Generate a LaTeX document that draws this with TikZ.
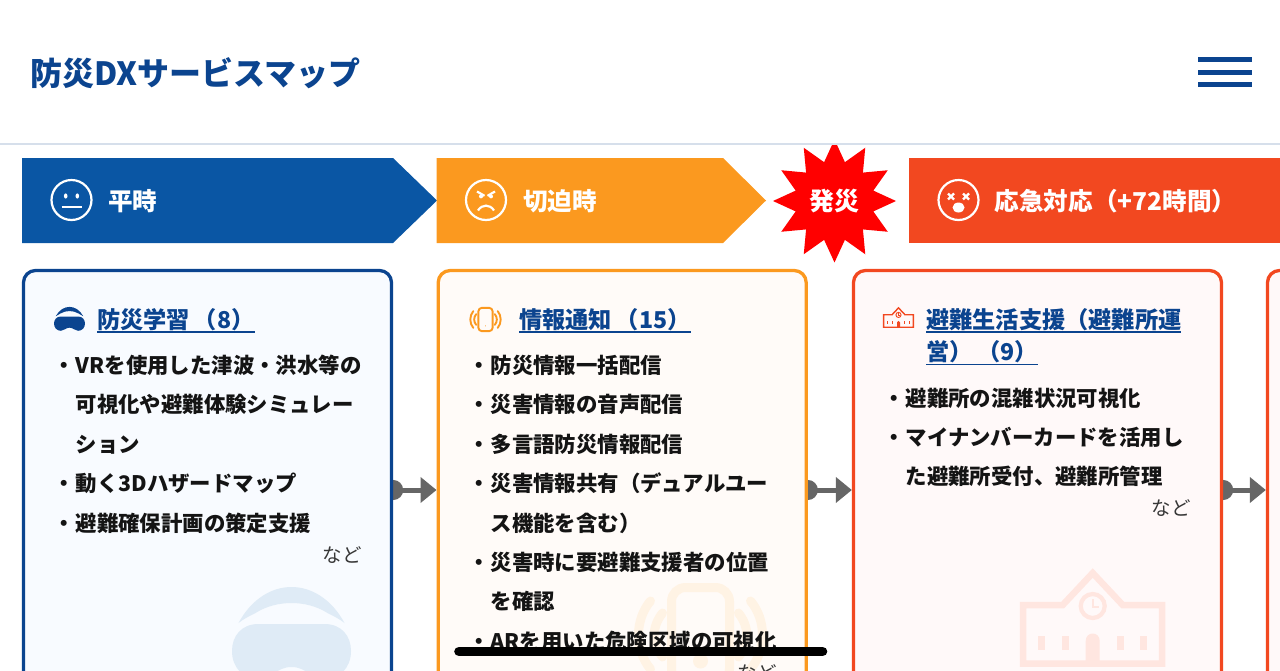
\documentclass[tikz,border=0pt]{standalone}
\usepackage{fontspec}
\setmainfont{Noto Sans CJK JP}
\usetikzlibrary{arrows.meta,backgrounds,shapes.geometric}
\definecolor{marino}{HTML}{0B448F}
\definecolor{azul}{HTML}{0A56A4}
\definecolor{naranja}{HTML}{FB991F}
\definecolor{bermellon}{HTML}{F24820}
\definecolor{rojo}{HTML}{FF0000}
\definecolor{gris}{HTML}{666666}
\definecolor{tinta}{HTML}{141414}
\definecolor{fondoazul}{HTML}{F8FBFF}
\definecolor{fondonaranja}{HTML}{FFFBF8}
\definecolor{fondorojo}{HTML}{FFF9F9}
\definecolor{palidoazul}{HTML}{DFEBF6}
\definecolor{palidonaranja}{HTML}{FFF3E4}
\definecolor{palidorojo}{HTML}{FFE6E0}
\definecolor{sombra}{HTML}{D6DFEB}
\newsavebox{\subrayabox}
\newcommand{\subraya}[1]{\sbox{\subrayabox}{#1}\rlap{\rule[-4.5pt]{\wd\subrayabox}{1.6pt}}\usebox{\subrayabox}}
\newcommand{\iconovr}[4]{\begin{scope}[shift={(#1,#2)},scale=#3]
  \fill[#4] (-53,-1) .. controls (-40,-25) and (-20,-37) .. (0,-37) .. controls (20,-37) and (40,-25) .. (53,-1)
    .. controls (48,-5) and (42,-8) .. (36,-11) .. controls (25,-18) and (12,-21) .. (0,-21)
    .. controls (-12,-21) and (-25,-18) .. (-36,-11) .. controls (-42,-8) and (-48,-5) .. (-53,-1) -- cycle;
  \fill[#4] (-33,0) -- (33,0) .. controls (50,0) and (59.5,12) .. (59.5,27) .. controls (59.5,44) and (48,55) .. (33,55)
    .. controls (20,55) and (15,43) .. (0,43) .. controls (-15,43) and (-20,55) .. (-33,55)
    .. controls (-48,55) and (-59.5,44) .. (-59.5,27) .. controls (-59.5,12) and (-50,0) .. (-33,0) -- cycle;
\end{scope}}
\newcommand{\iconofono}[5]{\begin{scope}[shift={(#1,#2)},scale=#3,#4,line width=#5,line cap=round]
  \draw[rounded corners=#3*14pt] (-29,-47.5) rectangle (29,47.5);
  \fill (0,26) circle (#3*7.5pt);
  \foreach \s in {-1,1}{
    \draw (\s*50,-34) .. controls (\s*66,-15) and (\s*66,15) .. (\s*50,34);
    \draw (\s*38,-22) .. controls (\s*49,-8) and (\s*49,8) .. (\s*38,22);
  }
\end{scope}}
\newcommand{\iconoescuela}[5]{\begin{scope}[shift={(#1,#2)},scale=#3,#4,line width=#5,miter limit=4]
  \draw (-30,36) -- (0,4) -- (30,36) -- (69.5,36) -- (69.5,94.5) -- (-69.5,94.5) -- (-69.5,36) -- cycle;
  \draw[line width=#5*.65] (0,37) circle (12);
  \draw[line width=#5*.25] (0,30) -- (0,38) -- (6,38);
  \fill (-7,94) -- (-7,72) .. controls (-7,62) and (7,62) .. (7,72) -- (7,94) -- cycle;
  \foreach \x in {-51,-27.5,27.5,51} \fill (\x-3.5,67) rectangle (\x+3.5,81);
\end{scope}}
\tikzset{
  tarjeta/.style={draw=#1,line width=3.3pt,rounded corners=12pt,minimum width=368pt,minimum height=439pt,inner sep=0pt},
  flujo/.style={gris,line width=5pt,{Circle[length=20pt,width=20pt]}-{Triangle[length=16pt,width=25pt]},shorten <=-10pt},
  cabecera/.style={white,font=\bfseries\fontsize{24.6}{24.6}\selectfont,anchor=base west,inner sep=0pt,yshift=-9.3pt},
  titulo/.style={marino,font=\bfseries\fontsize{23.2}{23.2}\selectfont,anchor=base west,inner sep=0pt,yshift=-8.8pt},
  linea/.style={tinta,font=\bfseries\fontsize{21.4}{21.4}\selectfont,anchor=base west,inner sep=0pt,yshift=-8.1pt},
  punto/.style={tinta,font=\bfseries\fontsize{21.4}{21.4}\selectfont,anchor=base east,inner sep=0pt,yshift=-8.1pt},
  etc/.style={tinta!85,font=\fontsize{19.5}{19.5}\selectfont,anchor=base,inner sep=0pt,yshift=-7.4pt},
  cara/.style={white,line width=2.2pt}
}
\begin{document}
\begin{tikzpicture}[x=1pt,y=-1pt,>=Latex]
  \useasboundingbox (0,0) rectangle (1280,670);
  \clip (0,0) rectangle (1280,670);
  \fill[azul] (22,158) -- (393,158) -- (437,200.5) -- (393,243) -- (22,243) -- cycle;
  \fill[naranja] (436.5,158) -- (723,158) -- (766,200.5) -- (723,243) -- (436.5,243) -- cycle;
  \fill[bermellon] (909,158) rectangle (1280,243);
  \node[star,star points=12,star point ratio=1.53,minimum size=123pt,inner sep=0pt,fill=rojo] (estrella) at (834.5,201) {};
  \node[white,font=\bfseries\fontsize{25}{25}\selectfont,inner sep=0pt] (hassai) at (834.5,201.5) {発災};
  \node[cabecera] (fase1) at (108,201.5) {平時};
  \node[cabecera] (fase2) at (523,201.5) {切迫時};
  \node[cabecera] (fase3) at (994.5,201.5) {応急対応（+72時間）};

  \fill[white] (0,0) rectangle (1280,143);
  \fill[sombra] (0,143) rectangle (1280,144.5);
  \node[marino,font=\bfseries\fontsize{32}{32}\selectfont,anchor=base west,inner sep=0pt,yshift=-12.2pt] (marca) at (30,73.5) {防災DXサービスマップ};
  \foreach \y in {57,69.5,82} \fill[marino] (1198,\y) rectangle (1252,\y+5);

  \begin{scope}[shift={(71.5,200)}]
    \draw[cara] (0,0) circle (20);
    \fill[white] (-5.8,-4) ellipse (1.8 and 2.6);
    \fill[white] (5.8,-4) ellipse (1.8 and 2.6);
    \draw[cara] (-10,6.7) -- (10,6.7);
  \end{scope}
  \begin{scope}[shift={(486,200)}]
    \draw[cara] (0,0) circle (20);
    \draw[cara] (-9,-8.5) -- (-1.5,-4.2);
    \draw[cara] (9,-8.5) -- (1.5,-4.2);
    \fill[white] (-5,-3.6) circle (2);
    \fill[white] (5,-3.6) circle (2);
    \draw[cara] (-8,10.5) .. controls (-4,4) and (4,4) .. (8,10.5);
  \end{scope}
  \begin{scope}[shift={(958.5,200)}]
    \draw[cara] (0,0) circle (20);
    \draw[cara] (-10.5,-6.5) -- (-4.5,-0.5) (-10.5,-0.5) -- (-4.5,-6.5);
    \draw[cara] (10.5,-6.5) -- (4.5,-0.5) (10.5,-0.5) -- (4.5,-6.5);
    \fill[white] (0,7.5) ellipse (6 and 5);
  \end{scope}

  \node[tarjeta=marino,fill=fondoazul] (cardA) at (207.5,490) {};
  \node[tarjeta=naranja,fill=fondonaranja] (cardB) at (622.2,490) {};
  \node[tarjeta=bermellon,fill=fondorojo] (cardC) at (1037.5,490) {};
  \node[tarjeta=bermellon,fill=fondorojo] (cardD) at (1451.5,490) {};
  \begin{pgfonlayer}{background}
    \foreach \a/\b in {cardA/cardB,cardB/cardC,cardC/cardD}
      \draw[flujo] (\a) -- (\b);
  \end{pgfonlayer}

  \iconovr{291.5}{624}{1}{palidoazul}
  \iconofono{700.5}{635}{1}{palidonaranja}{9pt}
  \iconoescuela{1092.7}{569}{1}{palidorojo}{6.5pt}
  \iconovr{69.5}{316.5}{.26}{marino}
  \iconofono{485.5}{319.5}{.245}{naranja}{1.9pt}
  \iconoescuela{898.5}{307}{.214}{bermellon}{1.4pt}

  \node[titulo] (tituloA) at (97,319.5) {\subraya{防災学習\hspace{4pt}（8）}};
  \node[titulo] (tituloB) at (519,319.5) {\subraya{情報通知\hspace{4pt}（15）}};
  \node[titulo] (tituloC) at (926,319.5) {\subraya{避難生活支援（避難所運}};
  \node[titulo] (tituloC2) at (926,352) {\subraya{営）\hspace{5pt}（9）}};

  \foreach \y/\t in {365/VRを使用した津波・洪水等の,404/可視化や避難体験シミュレー,444/ション,483/動く3Dハザードマップ,523/避難確保計画の策定支援}
    \node[linea] (lineaA\y) at (75.5,\y) {\t};
  \foreach \y in {365,483,523}
    \node[punto] (puntoA\y) at (75.5,\y) {・};
  \foreach \y/\t in {365/防災情報一括配信,404/災害情報の音声配信,444/多言語防災情報配信,483/災害情報共有（デュアルユー,523/ス機能を含む）,562/災害時に要避難支援者の位置,601/を確認,641/ARを用いた危険区域の可視化}
    \node[linea] (lineaB\y) at (490.5,\y) {\t};
  \foreach \y in {365,404,444,483,562,641}
    \node[punto] (puntoB\y) at (490.5,\y) {・};
  \foreach \y/\t in {398/避難所の混雑状況可視化,437/マイナンバーカードを活用し,476/た避難所受付、避難所管理}
    \node[linea] (lineaC\y) at (905.5,\y) {\t};
  \foreach \y in {398,437}
    \node[punto] (puntoC\y) at (905.5,\y) {・};

  \node[etc] (etcA) at (342,555.5) {など};
  \node[etc] (etcB) at (757,673) {など};
  \node[etc] (etcC) at (1171,508.5) {など};

  \draw[black,line width=9.6pt,line cap=round] (459,651.5) -- (822.5,651.5);
\end{tikzpicture}
\end{document}
